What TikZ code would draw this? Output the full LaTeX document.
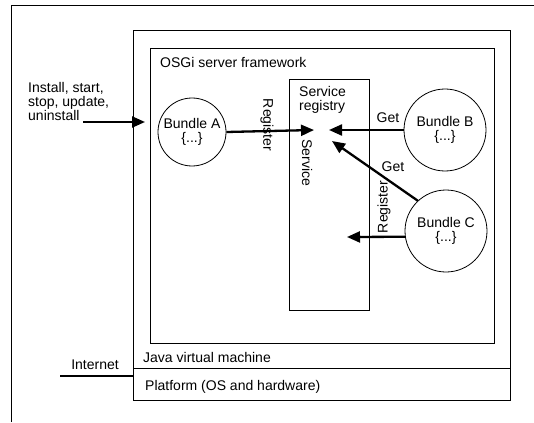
\documentclass[tikz,border=0pt]{standalone}
\usepackage{fontspec}
\setmainfont{Liberation Sans}
\usetikzlibrary{arrows.meta,calc}
\begin{document}
\begin{tikzpicture}[x=1pt,y=-1pt,
  font=\fontsize{14}{14}\selectfont,
  box/.style={draw, line width=0.9pt, rectangle, inner sep=0pt, anchor=north west},
  bundle/.style={draw, line width=0.8pt, circle, inner sep=0pt, align=center, fill=white},
  arr/.style={line width=2.3pt, -{Triangle[length=13pt,width=11pt]}},
  lbl/.style={inner sep=1pt}
]
\useasboundingbox (0,0) rectangle (534,422);
% outer frame
\coordinate (oTR) at (534,5);
\coordinate (oTL) at (11,5);
\coordinate (oBL) at (11,422);
\draw[line width=0.9pt] (oTR) -- (oTL) -- (oBL);
% boxes
\node[box, minimum width=377pt, minimum height=338pt] (jvm) at (133,30) {};
\node[box, minimum width=377pt, minimum height=32pt] (plat) at (133,368) {};
\node[box, minimum width=344pt, minimum height=295pt] (osgi) at (150,48) {};
\node[box, minimum width=80pt, minimum height=231pt] (reg) at (289,79) {};
% texts of boxes
\node[lbl, anchor=west] (tosgi) at (159,62) {OSGi server framework};
\node[lbl, anchor=west, align=left] (treg) at (298,100) {Service\\registry};
\node[lbl, anchor=west] (tjvm) at (142,357) {Java virtual machine};
\node[lbl, anchor=west] (tplat) at (144,387) {Platform (OS and hardware)};
% bundles
\node[bundle, minimum size=68pt] (bA) at (192,132) {Bundle A\\\{...\}};
\node[bundle, minimum size=82pt] (bB) at (445,130) {Bundle B\\\{...\}};
\node[bundle, minimum size=82pt] (bC) at (446,231) {Bundle C\\\{...\}};
% install arrow
\node[lbl, anchor=west, align=left] (tinst) at (27,101) {Install, start,\\stop, update,\\uninstall};
\coordinate (instS) at (83,122);
\coordinate (instE) at (145,122);
\draw[arr] (instS) -- (instE);
% service arrows
\coordinate (svcA) at (314,130);
\coordinate (svcB) at (329,130);
\coordinate (svcC) at (332,141);
\coordinate (svcD) at (347,237);
\draw[arr] (bA.east) -- (svcA);
\draw[arr] (bB.west) -- (svcB);
\draw[arr] (bC.133) -- (svcC);
\draw[arr] (bC.188) -- (svcD);
% labels
\node[lbl, rotate=-90] (lregA) at (267,125) {Register};
\node[lbl, rotate=-90] (lsvc) at (307,163) {Service};
\node[lbl] (lgetB) at (388,118) {Get};
\node[lbl] (lgetC) at (393,167) {Get};
\node[lbl, rotate=90] (lregC) at (384,207) {Register};
% internet
\coordinate (net) at (60,376);
\draw[line width=2pt] (net) -- (net -| jvm.west);
\node[lbl] (tnet) at (95,365) {Internet};
\end{tikzpicture}
\end{document}
